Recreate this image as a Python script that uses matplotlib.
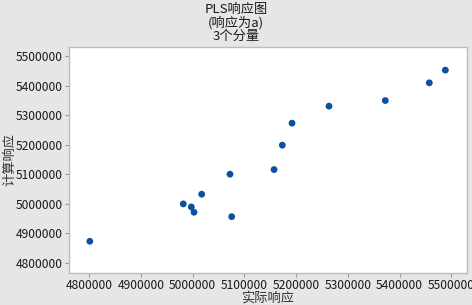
import matplotlib
matplotlib.use("Agg")
import matplotlib.pyplot as plt
from matplotlib.ticker import FixedLocator

plt.rcParams['font.family'] = ['Noto Sans CJK SC', 'DejaVu Sans']

actual = [4801000, 4981800, 4997300, 5002500, 5017400, 5072100, 5075400,
          5157300, 5173300, 5192100, 5263600, 5372500, 5457600, 5488600]
calc = [4872500, 4999000, 4988800, 4970800, 5031900, 5099700, 4955900,
        5115300, 5198000, 5272500, 5330200, 5349200, 5409200, 5452200]
ticks = [4800000, 4900000, 5000000, 5100000, 5200000, 5300000, 5400000, 5500000]
title = "PLS响应图\n(响应为a)\n3个分量"
xlabel = "实际响应"
ylabel = "计算响应"

fig = plt.figure(figsize=(4.72, 3.05), dpi=100)
fig.patch.set_facecolor('#e6e6e6')
ax = fig.add_axes([68.5/472, 1 - 273/305, (467-68.5)/472, (273-47)/305])
ax.set_facecolor('white')
ax.scatter(actual, calc, s=24, color='#0a52a0', edgecolors='none', zorder=3)
ax.set_xlim(4759800, 5530500)
ax.set_ylim(4765000, 5530500)
ax.xaxis.set_major_locator(FixedLocator(ticks))
ax.yaxis.set_major_locator(FixedLocator(ticks))
ax.set_xticklabels([str(t) for t in ticks])
ax.set_yticklabels([str(t) for t in ticks])
for s in ax.spines.values():
    s.set_color('#bdbdbd')
    s.set_linewidth(1.0)
ax.tick_params(axis='both', length=3, width=0.8, color='#9a9a9a', labelsize=8.7,
               labelcolor='#1a1a1a', pad=1.0)
ax.set_xlabel(xlabel, fontsize=9.5, color='#333333')
ax.set_ylabel(ylabel, fontsize=9.5, color='#333333')
ax.xaxis.set_label_coords(0.5, -(298.5 - 273) / 226, transform=ax.transAxes)
ax.yaxis.set_label_coords((10 - 68.5) / 398.5, 0.5, transform=ax.transAxes)
ax.xaxis.label.set_va('center')
ax.yaxis.label.set_va('center')
fig.text(0.5, 1 - 3/305, title, ha='center', va='top', fontsize=9.5,
         color='#1a1a1a', linespacing=1.0)
fig.savefig('out.png', dpi=100, facecolor=fig.get_facecolor())
